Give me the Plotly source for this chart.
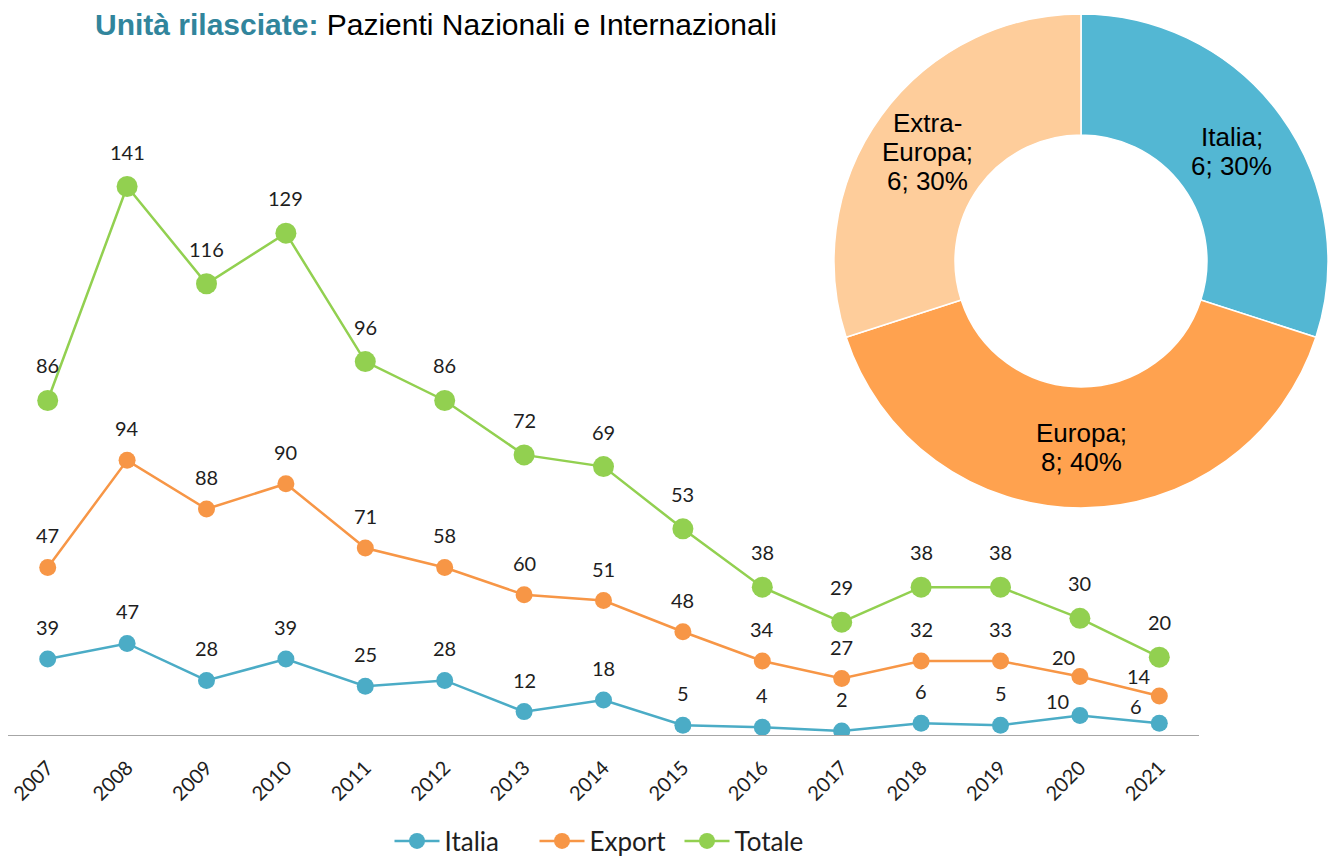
import math
import plotly.graph_objects as go

# ---------------- data ----------------
years = [str(y) for y in range(2007, 2022)]
italia = [39, 47, 28, 39, 25, 28, 12, 18, 5, 4, 2, 6, 5, 10, 6]
export = [47, 94, 88, 90, 71, 58, 60, 51, 48, 34, 27, 32, 33, 20, 14]
totale = [86, 141, 116, 129, 96, 86, 72, 69, 53, 38, 29, 38, 38, 30, 20]

pie_labels = ["Italia", "Europa", "Extra-Europa"]
pie_values = [6, 8, 6]

# In the reference the Export line is drawn at the heights of the Totale
# series measured on the secondary (Italia) axis, while its data labels
# show the Export values; reproduce what the picture shows.
export_line_heights = totale

# ---------------- styles ----------------
W, H = 1328, 859
C_IT, C_EX, C_TO = "#4BACC6", "#F79646", "#92D050"
PIE_COLORS = ["#53B7D3", "#FFA24F", "#FECD9B"]
TXT = "#1e1e1e"
LBL_FONT = dict(family="Lato, Carlito, sans-serif", size=20, color=TXT)
PIE_FONT = dict(family="Liberation Sans, Arial, sans-serif", size=26, color="black")
PIE_LINE_GAP = 29  # px between text lines inside the donut

# donut geometry (pixels)
PIE_CX, PIE_CY, PIE_R, PIE_HOLE = 1081, 261, 247, 0.51
PIE_LABEL_R = 190
pie_label_nudge = {"Italia": (-3, 2), "Extra-Europa": (0, 3), "Europa": (0, -4)}


def px_x(p):
    return p / W


def px_y(p):
    return 1 - p / H


# pixel nudges (dx, dy) of a few data labels, as placed in the reference
nudge = {
    ("Italia", "2020"): (-22, -17), ("Italia", "2021"): (-23, -15),
    ("Export", "2020"): (-16, -12), ("Export", "2021"): (-20, -12),
}

fig = go.Figure()

fig.add_trace(go.Scatter(
    x=years, y=italia, name="Italia", yaxis="y2", mode="lines+markers",
    line=dict(color=C_IT, width=2.5), marker=dict(color=C_IT, size=17),
    hovertemplate="%{x}: %{y}<extra>Italia</extra>"))
fig.add_trace(go.Scatter(
    x=years, y=export_line_heights, name="Export", yaxis="y2", mode="lines+markers",
    line=dict(color=C_EX, width=2.5), marker=dict(color=C_EX, size=17),
    customdata=export, hovertemplate="%{x}: %{customdata}<extra>Export</extra>"))
fig.add_trace(go.Scatter(
    x=years, y=totale, name="Totale", yaxis="y", mode="lines+markers",
    line=dict(color=C_TO, width=2.5), marker=dict(color=C_TO, size=21),
    hovertemplate="%{x}: %{y}<extra>Totale</extra>"))


def add_labels(series, ys, texts, yref, yshift):
    # category axis: annotation x given as category index
    for i, (yr, y, t) in enumerate(zip(years, ys, texts)):
        dx, dy = nudge.get((series, yr), (0, 0))
        fig.add_annotation(
            x=i, y=y, xref="x", yref=yref, text=str(t), showarrow=False,
            yanchor="middle", xanchor="center", yshift=yshift + dy,
            xshift=dx, font=LBL_FONT)


add_labels("Italia", italia, italia, "y2", 32)
add_labels("Export", export_line_heights, export, "y2", 32)
add_labels("Totale", totale, totale, "y", 35)

# donut
fig.add_trace(go.Pie(
    labels=pie_labels, values=pie_values,
    hole=PIE_HOLE, sort=False, direction="clockwise", rotation=0,
    marker=dict(colors=PIE_COLORS, line=dict(color="white", width=1.5)),
    textinfo="none",
    domain=dict(x=[px_x(PIE_CX - PIE_R), 1.0], y=[px_y(PIE_CY + PIE_R), px_y(PIE_CY - PIE_R)]),
    showlegend=False))

# donut labels "label; value; percent" at each slice's mid angle
total_pie = sum(pie_values)
cum = 0
for lab, val in zip(pie_labels, pie_values):
    mid = (cum + val / 2) / total_pie * 2 * math.pi
    cum += val
    dx, dy = pie_label_nudge.get(lab, (0, 0))
    lx = PIE_CX + PIE_LABEL_R * math.sin(mid) + dx
    ly = PIE_CY - PIE_LABEL_R * math.cos(mid) + dy
    pct = round(100 * val / total_pie)
    lines = lab.replace("-", "-\n").split("\n")
    lines[-1] += ";"
    lines.append(f"{val}; {pct}%")
    n = len(lines)
    for j, line in enumerate(lines):
        fig.add_annotation(
            xref="paper", yref="paper", x=px_x(lx), y=px_y(ly + (j - (n - 1) / 2) * PIE_LINE_GAP),
            xanchor="center", yanchor="middle", showarrow=False, text=line, font=PIE_FONT)

# title
fig.add_annotation(
    xref="paper", yref="paper", x=px_x(93), y=px_y(25), xanchor="left", yanchor="middle",
    showarrow=False,
    text="<b><span style='color:#31859C'>Unità rilasciate:</span></b> Pazienti Nazionali e Internazionali",
    font=dict(family="Liberation Sans, Arial, sans-serif", size=30, color="black"))

fig.update_layout(
    width=W, height=H, margin=dict(l=0, r=0, t=0, b=0, autoexpand=False),
    paper_bgcolor="white", plot_bgcolor="white",
    xaxis=dict(type="category", range=[-0.5, 14.5], domain=[px_x(8), px_x(1199)],
               showline=True, linecolor="#A6A6A6", linewidth=1.3, showgrid=False,
               zeroline=False, ticks="", tickangle=-45, ticklabelstandoff=12,
               automargin=False,
               tickfont=dict(family="Lato, Carlito, sans-serif", size=20, color=TXT)),
    yaxis=dict(domain=[px_y(735), px_y(100)], range=[0, 635 / 3.89], visible=False),
    yaxis2=dict(overlaying="y", range=[0, 635 / 1.948], visible=False),
    legend=dict(orientation="h", x=px_x(607), xanchor="center", y=px_y(841), yanchor="middle",
                font=dict(family="Lato, Carlito, sans-serif", size=26, color=TXT),
                itemwidth=45, entrywidth=85, bgcolor="rgba(0,0,0,0)"),
    showlegend=True,
)

fig.write_html("out.html", config={"displayModeBar": False},
               post_script="document.body.style.margin='0';")
